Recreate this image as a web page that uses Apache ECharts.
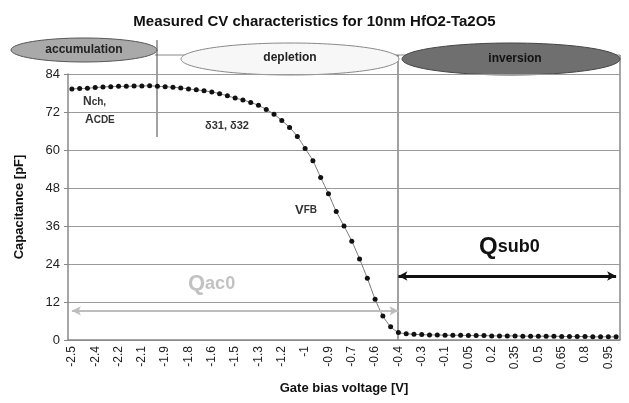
<!DOCTYPE html>
<html>
<head>
<meta charset="utf-8">
<script src="https://cdn.jsdelivr.net/npm/echarts@6/dist/echarts.min.js"></script>
<style>
  html, body { margin: 0; padding: 0; background: #fff; }
  #chart { width: 629px; height: 403px; }
</style>
</head>
<body>
<div id="chart"></div>
<script>
// gate bias voltage, 0.05 V steps
var voltages = [
  '-2.5', '-2.45', '-2.4', '-2.35', '-2.3', '-2.25', '-2.2', '-2.15', '-2.1', '-2.05',
  '-2', '-1.95', '-1.9', '-1.85', '-1.8', '-1.75', '-1.7', '-1.65', '-1.6', '-1.55',
  '-1.5', '-1.45', '-1.4', '-1.35', '-1.3', '-1.25', '-1.2', '-1.15', '-1.1', '-1.05',
  '-1', '-0.95', '-0.9', '-0.85', '-0.8', '-0.75', '-0.7', '-0.65', '-0.6', '-0.55',
  '-0.5', '-0.45', '-0.4', '-0.35', '-0.3', '-0.25', '-0.2', '-0.15', '-0.1', '-0.05',
  '0', '0.05', '0.1', '0.15', '0.2', '0.25', '0.3', '0.35', '0.4', '0.45',
  '0.5', '0.55', '0.6', '0.65', '0.7', '0.75', '0.8', '0.85', '0.9', '0.95', '1'
]

// measured capacitance [pF]
var capacitance = [
  79.3, 79.4, 79.5, 79.7, 79.9, 80.0, 80.1, 80.1, 80.2, 80.2,
  80.3, 80.1, 80.0, 79.8, 79.6, 79.3, 79.0, 78.7, 78.3, 77.8,
  77.1, 76.4, 75.8, 75.0, 74.1, 72.8, 71.3, 69.3, 67.1, 64.3,
  60.5, 56.6, 51.3, 46.2, 40.6, 36.0, 31.2, 25.6, 19.5, 12.9,
  7.6, 4.2, 2.4, 2.0, 1.8, 1.7, 1.6, 1.6, 1.5, 1.5,
  1.5, 1.4, 1.4, 1.4, 1.3, 1.3, 1.3, 1.3, 1.2, 1.2,
  1.2, 1.2, 1.2, 1.1, 1.1, 1.1, 1.1, 1.0, 1.0, 1.0, 1.0
]

// labels shown on every third category (as printed in the original)
var tickLabels = [
  '-2.5', '-2.4', '-2.2', '-2.1', '-1.9', '-1.8', '-1.6', '-1.5', '-1.3', '-1.2',
  '-1', '-0.9', '-0.7', '-0.6', '-0.4', '-0.3', '-0.1', '0.05', '0.2', '0.35',
  '0.5', '0.65', '0.8', '0.95'
]

var yTicks = [0, 12, 24, 36, 48, 60, 72, 84]

var FONT = '"Liberation Sans", Arial, sans-serif'

var chart = echarts.init(document.getElementById('chart'))

chart.setOption({
  animation: false,
  title: {
    text: 'Measured CV characteristics for 10nm HfO2-Ta2O5',
    left: 'center',
    top: 9,
    textStyle: {
      fontFamily: FONT,
      fontSize: 15,
      fontWeight: 'bold',
      color: '#111'
    }
  },
  grid: {
    left: 68,
    right: 9,
    top: 74,
    bottom: 63
  },
  xAxis: {
    type: 'category',
    data: voltages,
    boundaryGap: true,
    name: 'Gate bias voltage [V]',
    nameLocation: 'middle',
    nameGap: 42,
    nameTextStyle: {
      fontFamily: FONT,
      fontSize: 13,
      fontWeight: 'bold',
      color: '#111'
    },
    axisLine: {
      lineStyle: { color: '#888', width: 1.5 }
    },
    axisTick: {
      interval: 0,
      length: 4,
      lineStyle: { color: '#888' }
    },
    axisLabel: {
      interval: 0,
      rotate: 90,
      margin: 6,
      fontFamily: FONT,
      fontSize: 12,
      color: '#222',
      formatter: function (value, index) {
        return index % 3 === 0 ? tickLabels[index / 3] : ''
      }
    },
    splitLine: { show: false }
  },
  yAxis: {
    type: 'value',
    min: yTicks[0],
    max: yTicks[yTicks.length - 1],
    interval: 12,
    name: 'Capacitance [pF]',
    nameLocation: 'middle',
    nameGap: 42,
    nameTextStyle: {
      fontFamily: FONT,
      fontSize: 13,
      fontWeight: 'bold',
      color: '#111'
    },
    axisLine: {
      show: true,
      lineStyle: { color: '#888', width: 1.5 }
    },
    axisTick: {
      show: true,
      length: 4,
      lineStyle: { color: '#888' }
    },
    axisLabel: {
      fontFamily: FONT,
      fontSize: 13,
      color: '#222',
      margin: 8
    },
    splitLine: {
      lineStyle: { color: '#9a9a9a', width: 1.2 }
    }
  },
  series: [
    {
      type: 'line',
      data: capacitance,
      smooth: 0.3,
      symbol: 'circle',
      symbolSize: 5,
      itemStyle: { color: '#111' },
      lineStyle: { color: '#777', width: 1 },
      markLine: {
        silent: true,
        symbol: ['arrow', 'arrow'],
        symbolSize: [7, 9],
        label: { show: false },
        data: [
          [
            { coord: ['-2.5', 9.2], lineStyle: { color: '#bdbdbd', width: 2, type: 'solid' }, itemStyle: { color: '#bdbdbd' } },
            { coord: ['-0.4', 9.2] }
          ],
          [
            { coord: ['-0.4', 20.2], lineStyle: { color: '#111', width: 3, type: 'solid' }, itemStyle: { color: '#111' } },
            { coord: ['1', 20.2] }
          ]
        ]
      }
    }
  ],
  graphic: [
    // band above plot
    { type: 'line', shape: { x1: 155, y1: 55, x2: 620, y2: 55 }, style: { stroke: '#888', lineWidth: 1 } },
    { type: 'line', shape: { x1: 620, y1: 55, x2: 620, y2: 340 }, style: { stroke: '#888', lineWidth: 1.5 } },
    { type: 'line', shape: { x1: 157, y1: 40, x2: 157, y2: 137 }, style: { stroke: '#444', lineWidth: 1 } },
    { type: 'line', shape: { x1: 398, y1: 55, x2: 398, y2: 340 }, style: { stroke: '#444', lineWidth: 1 } },
    {
      type: 'ellipse',
      shape: { cx: 84, cy: 50, rx: 73, ry: 12 },
      style: { fill: '#a9a9a9', stroke: '#555', lineWidth: 1 }
    },
    {
      type: 'ellipse',
      shape: { cx: 290, cy: 59, rx: 109, ry: 16 },
      style: { fill: '#f7f7f7', stroke: '#888', lineWidth: 1 }
    },
    {
      type: 'ellipse',
      shape: { cx: 511, cy: 59, rx: 109, ry: 16 },
      style: { fill: '#6f6f6f', stroke: '#444', lineWidth: 1 }
    },
    {
      type: 'text', x: 84, y: 50,
      style: { text: 'accumulation', fontFamily: FONT, fontSize: 12, fontWeight: 'bold', fill: '#222', align: 'center', verticalAlign: 'middle' }
    },
    {
      type: 'text', x: 290, y: 58,
      style: { text: 'depletion', fontFamily: FONT, fontSize: 12, fontWeight: 'bold', fill: '#222', align: 'center', verticalAlign: 'middle' }
    },
    {
      type: 'text', x: 515, y: 59,
      style: { text: 'inversion', fontFamily: FONT, fontSize: 12, fontWeight: 'bold', fill: '#111', align: 'center', verticalAlign: 'middle' }
    },
    // parameter annotations
    {
      type: 'text', x: 83, y: 102,
      style: {
        text: '{a|N}{b|ch,}', verticalAlign: 'middle',
        rich: {
          a: { fontFamily: FONT, fontSize: 12, fontWeight: 'bold', fill: '#333' },
          b: { fontFamily: FONT, fontSize: 10, fontWeight: 'bold', fill: '#333' }
        }
      }
    },
    {
      type: 'text', x: 85, y: 120,
      style: {
        text: '{a|A}{b|CDE}', verticalAlign: 'middle',
        rich: {
          a: { fontFamily: FONT, fontSize: 12, fontWeight: 'bold', fill: '#333' },
          b: { fontFamily: FONT, fontSize: 10, fontWeight: 'bold', fill: '#333' }
        }
      }
    },
    {
      type: 'text', x: 205, y: 126,
      style: { text: 'δ31, δ32', fontFamily: FONT, fontSize: 11, fontWeight: 'bold', fill: '#333', verticalAlign: 'middle' }
    },
    {
      type: 'text', x: 295, y: 210,
      style: {
        text: '{a|V}{b|FB}', verticalAlign: 'middle',
        rich: {
          a: { fontFamily: FONT, fontSize: 13, fontWeight: 'bold', fill: '#333' },
          b: { fontFamily: FONT, fontSize: 10, fontWeight: 'bold', fill: '#333' }
        }
      }
    },
    {
      type: 'text', x: 188, y: 284,
      style: {
        text: '{a|Q}{b|ac0}', verticalAlign: 'middle',
        rich: {
          a: { fontFamily: FONT, fontSize: 22, fontWeight: 'bold', fill: '#c2c2c2' },
          b: { fontFamily: FONT, fontSize: 18, fontWeight: 'bold', fill: '#c2c2c2' }
        }
      }
    },
    {
      type: 'text', x: 479, y: 247,
      style: {
        text: '{a|Q}{b|sub0}', verticalAlign: 'middle',
        rich: {
          a: { fontFamily: FONT, fontSize: 24, fontWeight: 'bold', fill: '#111' },
          b: { fontFamily: FONT, fontSize: 18, fontWeight: 'bold', fill: '#111' }
        }
      }
    }
  ]
})
</script>
</body>
</html>
